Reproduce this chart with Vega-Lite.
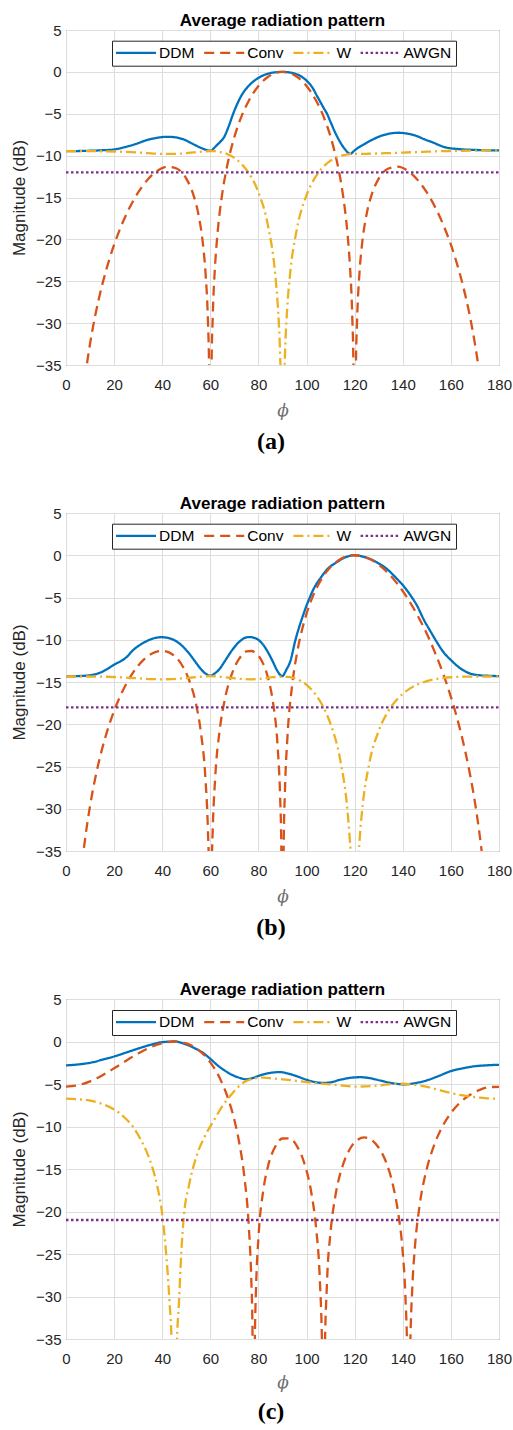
{
"$schema": "https://vega.github.io/schema/vega-lite/v6.json",
"background": "white",
"padding": {"left": 10, "top": 11, "right": 2, "bottom": 0},
"spacing": 40,
"config": {
  "font": "Liberation Sans",
  "view": {"stroke": "#404040", "strokeWidth": 1},
  "axis": {"grid": true, "gridColor": "#dedede", "gridWidth": 1, "domain": false, "ticks": false, "labelFont": "Liberation Sans", "labelFontSize": 15, "labelColor": "#262626", "labelFlush": false, "labelOverlap": false, "titleFont": "Liberation Sans", "titleFontWeight": "normal", "titleColor": "#262626", "titleFontSize": 17}
},
"resolve": {"scale": {"color": "independent", "strokeDash": "independent"}},
"datasets": {
"a": [
{"series":"DDM","phi":0,"dB":-9.46},{"series":"DDM","phi":5,"dB":-9.45},{"series":"DDM","phi":10,"dB":-9.42},{"series":"DDM","phi":15,"dB":-9.36},{"series":"DDM","phi":20,"dB":-9.26},{"series":"DDM","phi":25,"dB":-8.95},{"series":"DDM","phi":29.6,"dB":-8.55},{"series":"DDM","phi":33,"dB":-8.2},{"series":"DDM","phi":36.5,"dB":-7.95},{"series":"DDM","phi":39,"dB":-7.82},{"series":"DDM","phi":42,"dB":-7.75},{"series":"DDM","phi":45,"dB":-7.8},{"series":"DDM","phi":49,"dB":-8.07},{"series":"DDM","phi":53,"dB":-8.65},{"series":"DDM","phi":57,"dB":-9.18},{"series":"DDM","phi":59,"dB":-9.38},{"series":"DDM","phi":60.3,"dB":-9.42},{"series":"DDM","phi":61.5,"dB":-9.1},{"series":"DDM","phi":62.9,"dB":-8.7},{"series":"DDM","phi":64.3,"dB":-8.3},{"series":"DDM","phi":65.6,"dB":-7.85},{"series":"DDM","phi":67.5,"dB":-6.6},{"series":"DDM","phi":69.5,"dB":-5.0},{"series":"DDM","phi":71,"dB":-3.95},{"series":"DDM","phi":72.6,"dB":-3.0},{"series":"DDM","phi":74.5,"dB":-2.15},{"series":"DDM","phi":76.7,"dB":-1.45},{"series":"DDM","phi":80,"dB":-0.72},{"series":"DDM","phi":85,"dB":-0.14},{"series":"DDM","phi":90,"dB":0},{"series":"DDM","phi":95,"dB":-0.2},{"series":"DDM","phi":100,"dB":-1.05},{"series":"DDM","phi":102.5,"dB":-1.9},{"series":"DDM","phi":104.4,"dB":-2.9},{"series":"DDM","phi":107.1,"dB":-4.3},{"series":"DDM","phi":108.5,"dB":-5.0},{"series":"DDM","phi":110,"dB":-6.0},{"series":"DDM","phi":112,"dB":-7.3},{"series":"DDM","phi":114,"dB":-8.4},{"series":"DDM","phi":116,"dB":-9.25},{"series":"DDM","phi":117.5,"dB":-9.7},{"series":"DDM","phi":118.3,"dB":-9.78},{"series":"DDM","phi":119.5,"dB":-9.5},{"series":"DDM","phi":121,"dB":-9.15},{"series":"DDM","phi":123.8,"dB":-8.67},{"series":"DDM","phi":127,"dB":-8.15},{"series":"DDM","phi":130.7,"dB":-7.67},{"series":"DDM","phi":134,"dB":-7.4},{"series":"DDM","phi":138.3,"dB":-7.27},{"series":"DDM","phi":142,"dB":-7.38},{"series":"DDM","phi":145.9,"dB":-7.67},{"series":"DDM","phi":149,"dB":-8.05},{"series":"DDM","phi":152.8,"dB":-8.46},{"series":"DDM","phi":156,"dB":-8.85},{"series":"DDM","phi":158.4,"dB":-9.06},{"series":"DDM","phi":162,"dB":-9.19},{"series":"DDM","phi":165.3,"dB":-9.26},{"series":"DDM","phi":170,"dB":-9.32},{"series":"DDM","phi":175,"dB":-9.36},{"series":"DDM","phi":180,"dB":-9.38},
{"series":"Conv","phi":7,"dB":-38.6},{"series":"Conv","phi":8,"dB":-36.3},{"series":"Conv","phi":9,"dB":-34.28},{"series":"Conv","phi":10,"dB":-32.46},{"series":"Conv","phi":12,"dB":-29.31},{"series":"Conv","phi":15,"dB":-25.49},{"series":"Conv","phi":18,"dB":-22.4},{"series":"Conv","phi":20,"dB":-20.64},{"series":"Conv","phi":23,"dB":-18.37},{"series":"Conv","phi":26,"dB":-16.46},{"series":"Conv","phi":30,"dB":-14.4},{"series":"Conv","phi":34,"dB":-12.84},{"series":"Conv","phi":38,"dB":-11.8},{"series":"Conv","phi":42,"dB":-11.32},{"series":"Conv","phi":46,"dB":-11.54},{"series":"Conv","phi":50,"dB":-12.74},{"series":"Conv","phi":53,"dB":-14.72},{"series":"Conv","phi":55,"dB":-16.94},{"series":"Conv","phi":57,"dB":-20.76},{"series":"Conv","phi":58,"dB":-23.99},{"series":"Conv","phi":59,"dB":-29.74},{"series":"Conv","phi":59.5,"dB":-35.62},{"series":"Conv","phi":60,"dB":-70},{"series":"Conv","phi":60.5,"dB":-35.37},{"series":"Conv","phi":61,"dB":-29.24},{"series":"Conv","phi":62,"dB":-22.99},{"series":"Conv","phi":63,"dB":-19.26},{"series":"Conv","phi":65,"dB":-14.44},{"series":"Conv","phi":67,"dB":-11.22},{"series":"Conv","phi":70,"dB":-7.76},{"series":"Conv","phi":73,"dB":-5.28},{"series":"Conv","phi":76,"dB":-3.44},{"series":"Conv","phi":80,"dB":-1.69},{"series":"Conv","phi":84,"dB":-0.59},{"series":"Conv","phi":87,"dB":-0.15},{"series":"Conv","phi":90,"dB":0},{"series":"Conv","phi":93,"dB":-0.15},{"series":"Conv","phi":96,"dB":-0.59},{"series":"Conv","phi":100,"dB":-1.69},{"series":"Conv","phi":104,"dB":-3.44},{"series":"Conv","phi":107,"dB":-5.28},{"series":"Conv","phi":110,"dB":-7.76},{"series":"Conv","phi":113,"dB":-11.22},{"series":"Conv","phi":115,"dB":-14.44},{"series":"Conv","phi":117,"dB":-19.26},{"series":"Conv","phi":118,"dB":-22.99},{"series":"Conv","phi":119,"dB":-29.24},{"series":"Conv","phi":119.5,"dB":-35.37},{"series":"Conv","phi":120,"dB":-70},{"series":"Conv","phi":120.5,"dB":-35.62},{"series":"Conv","phi":121,"dB":-29.74},{"series":"Conv","phi":122,"dB":-23.99},{"series":"Conv","phi":123,"dB":-20.76},{"series":"Conv","phi":125,"dB":-16.94},{"series":"Conv","phi":127,"dB":-14.72},{"series":"Conv","phi":130,"dB":-12.74},{"series":"Conv","phi":134,"dB":-11.54},{"series":"Conv","phi":138,"dB":-11.32},{"series":"Conv","phi":142,"dB":-11.8},{"series":"Conv","phi":146,"dB":-12.84},{"series":"Conv","phi":150,"dB":-14.4},{"series":"Conv","phi":154,"dB":-16.46},{"series":"Conv","phi":157,"dB":-18.37},{"series":"Conv","phi":160,"dB":-20.64},{"series":"Conv","phi":162,"dB":-22.4},{"series":"Conv","phi":165,"dB":-25.49},{"series":"Conv","phi":168,"dB":-29.31},{"series":"Conv","phi":170,"dB":-32.46},{"series":"Conv","phi":171,"dB":-34.28},{"series":"Conv","phi":172,"dB":-36.3},{"series":"Conv","phi":173,"dB":-38.6},
{"series":"W","phi":0,"dB":-9.47},{"series":"W","phi":10,"dB":-9.47},{"series":"W","phi":20,"dB":-9.51},{"series":"W","phi":25,"dB":-9.56},{"series":"W","phi":30,"dB":-9.63},{"series":"W","phi":34,"dB":-9.7},{"series":"W","phi":38,"dB":-9.77},{"series":"W","phi":42,"dB":-9.8},{"series":"W","phi":46,"dB":-9.79},{"series":"W","phi":50,"dB":-9.71},{"series":"W","phi":53,"dB":-9.62},{"series":"W","phi":55,"dB":-9.56},{"series":"W","phi":57,"dB":-9.51},{"series":"W","phi":60,"dB":-9.45},{"series":"W","phi":62,"dB":-9.47},{"series":"W","phi":65,"dB":-9.63},{"series":"W","phi":67,"dB":-9.81},{"series":"W","phi":70,"dB":-10.27},{"series":"W","phi":73,"dB":-11.0},{"series":"W","phi":76,"dB":-12.09},{"series":"W","phi":80,"dB":-14.39},{"series":"W","phi":84,"dB":-18.4},{"series":"W","phi":87,"dB":-24.24},{"series":"W","phi":88,"dB":-27.73},{"series":"W","phi":89,"dB":-33.73},{"series":"W","phi":89.5,"dB":-39.7},{"series":"W","phi":90,"dB":-70},{"series":"W","phi":90.5,"dB":-40.0},{"series":"W","phi":91,"dB":-34.06},{"series":"W","phi":92,"dB":-28.06},{"series":"W","phi":93,"dB":-24.57},{"series":"W","phi":96,"dB":-18.73},{"series":"W","phi":100,"dB":-14.72},{"series":"W","phi":104,"dB":-12.42},{"series":"W","phi":107,"dB":-11.33},{"series":"W","phi":110,"dB":-10.6},{"series":"W","phi":113,"dB":-10.14},{"series":"W","phi":115,"dB":-9.96},{"series":"W","phi":118,"dB":-9.82},{"series":"W","phi":120,"dB":-9.8},{"series":"W","phi":125,"dB":-9.78},{"series":"W","phi":130,"dB":-9.74},{"series":"W","phi":135,"dB":-9.69},{"series":"W","phi":140,"dB":-9.64},{"series":"W","phi":145,"dB":-9.58},{"series":"W","phi":150,"dB":-9.53},{"series":"W","phi":155,"dB":-9.48},{"series":"W","phi":160,"dB":-9.45},{"series":"W","phi":165,"dB":-9.42},{"series":"W","phi":170,"dB":-9.4},{"series":"W","phi":175,"dB":-9.38},{"series":"W","phi":180,"dB":-9.38},
{"series":"AWGN","phi":0,"dB":-12},{"series":"AWGN","phi":180,"dB":-12}
],
"b": [
{"series":"DDM","phi":0,"dB":-14.35},{"series":"DDM","phi":5,"dB":-14.3},{"series":"DDM","phi":10,"dB":-14.2},{"series":"DDM","phi":15,"dB":-13.8},{"series":"DDM","phi":20,"dB":-12.95},{"series":"DDM","phi":25,"dB":-12.1},{"series":"DDM","phi":28,"dB":-11.2},{"series":"DDM","phi":32,"dB":-10.4},{"series":"DDM","phi":36,"dB":-9.87},{"series":"DDM","phi":39.6,"dB":-9.7},{"series":"DDM","phi":44,"dB":-9.92},{"series":"DDM","phi":48,"dB":-10.65},{"series":"DDM","phi":51,"dB":-11.56},{"series":"DDM","phi":54,"dB":-12.7},{"series":"DDM","phi":56,"dB":-13.45},{"series":"DDM","phi":58,"dB":-14.0},{"series":"DDM","phi":60,"dB":-14.25},{"series":"DDM","phi":62,"dB":-13.95},{"series":"DDM","phi":64,"dB":-13.4},{"series":"DDM","phi":66,"dB":-12.55},{"series":"DDM","phi":69,"dB":-11.25},{"series":"DDM","phi":72,"dB":-10.25},{"series":"DDM","phi":75,"dB":-9.72},{"series":"DDM","phi":76.5,"dB":-9.68},{"series":"DDM","phi":79,"dB":-9.85},{"series":"DDM","phi":82,"dB":-10.6},{"series":"DDM","phi":84,"dB":-11.5},{"series":"DDM","phi":86,"dB":-12.6},{"series":"DDM","phi":88,"dB":-13.75},{"series":"DDM","phi":89.9,"dB":-14.3},{"series":"DDM","phi":91.5,"dB":-13.6},{"series":"DDM","phi":93.3,"dB":-12.5},{"series":"DDM","phi":95.4,"dB":-10.0},{"series":"DDM","phi":98.2,"dB":-7.4},{"series":"DDM","phi":100.9,"dB":-5.3},{"series":"DDM","phi":103,"dB":-3.95},{"series":"DDM","phi":105.8,"dB":-2.7},{"series":"DDM","phi":109,"dB":-1.55},{"series":"DDM","phi":112.7,"dB":-0.8},{"series":"DDM","phi":116,"dB":-0.25},{"series":"DDM","phi":120,"dB":0},{"series":"DDM","phi":124,"dB":-0.2},{"series":"DDM","phi":129.3,"dB":-0.85},{"series":"DDM","phi":133.5,"dB":-1.65},{"series":"DDM","phi":137.6,"dB":-2.8},{"series":"DDM","phi":140.5,"dB":-3.7},{"series":"DDM","phi":143.1,"dB":-4.7},{"series":"DDM","phi":146,"dB":-6.0},{"series":"DDM","phi":148.7,"dB":-7.6},{"series":"DDM","phi":151.5,"dB":-9.0},{"series":"DDM","phi":154.2,"dB":-10.3},{"series":"DDM","phi":157,"dB":-11.5},{"series":"DDM","phi":160,"dB":-12.4},{"series":"DDM","phi":164,"dB":-13.4},{"series":"DDM","phi":168,"dB":-14.0},{"series":"DDM","phi":172,"dB":-14.2},{"series":"DDM","phi":176,"dB":-14.27},{"series":"DDM","phi":180,"dB":-14.3},
{"series":"Conv","phi":6,"dB":-38.4},{"series":"Conv","phi":7,"dB":-35.72},{"series":"Conv","phi":8,"dB":-33.44},{"series":"Conv","phi":10,"dB":-29.65},{"series":"Conv","phi":12,"dB":-26.59},{"series":"Conv","phi":15,"dB":-22.93},{"series":"Conv","phi":18,"dB":-20.03},{"series":"Conv","phi":21,"dB":-17.69},{"series":"Conv","phi":24,"dB":-15.8},{"series":"Conv","phi":28,"dB":-13.83},{"series":"Conv","phi":32,"dB":-12.44},{"series":"Conv","phi":36,"dB":-11.59},{"series":"Conv","phi":40,"dB":-11.31},{"series":"Conv","phi":44,"dB":-11.68},{"series":"Conv","phi":48,"dB":-12.9},{"series":"Conv","phi":51,"dB":-14.64},{"series":"Conv","phi":54,"dB":-17.56},{"series":"Conv","phi":56,"dB":-20.8},{"series":"Conv","phi":58,"dB":-26.6},{"series":"Conv","phi":59,"dB":-32.55},{"series":"Conv","phi":59.5,"dB":-38.55},{"series":"Conv","phi":60,"dB":-70},{"series":"Conv","phi":60.5,"dB":-38.51},{"series":"Conv","phi":61,"dB":-32.46},{"series":"Conv","phi":62,"dB":-26.43},{"series":"Conv","phi":64,"dB":-20.46},{"series":"Conv","phi":66,"dB":-17.09},{"series":"Conv","phi":69,"dB":-14.01},{"series":"Conv","phi":72,"dB":-12.24},{"series":"Conv","phi":75,"dB":-11.39},{"series":"Conv","phi":77,"dB":-11.33},{"series":"Conv","phi":79,"dB":-11.6},{"series":"Conv","phi":82,"dB":-12.86},{"series":"Conv","phi":84,"dB":-14.53},{"series":"Conv","phi":86,"dB":-17.33},{"series":"Conv","phi":88,"dB":-22.74},{"series":"Conv","phi":89,"dB":-28.48},{"series":"Conv","phi":89.5,"dB":-34.37},{"series":"Conv","phi":90,"dB":-70},{"series":"Conv","phi":90.5,"dB":-34.13},{"series":"Conv","phi":91,"dB":-28.0},{"series":"Conv","phi":92,"dB":-21.78},{"series":"Conv","phi":94,"dB":-15.41},{"series":"Conv","phi":96,"dB":-11.64},{"series":"Conv","phi":98,"dB":-8.96},{"series":"Conv","phi":100,"dB":-6.91},{"series":"Conv","phi":103,"dB":-4.59},{"series":"Conv","phi":106,"dB":-2.91},{"series":"Conv","phi":110,"dB":-1.39},{"series":"Conv","phi":114,"dB":-0.47},{"series":"Conv","phi":117,"dB":-0.11},{"series":"Conv","phi":120,"dB":0},{"series":"Conv","phi":123,"dB":-0.11},{"series":"Conv","phi":126,"dB":-0.42},{"series":"Conv","phi":130,"dB":-1.13},{"series":"Conv","phi":134,"dB":-2.15},{"series":"Conv","phi":138,"dB":-3.48},{"series":"Conv","phi":142,"dB":-5.1},{"series":"Conv","phi":146,"dB":-7.05},{"series":"Conv","phi":150,"dB":-9.29},{"series":"Conv","phi":154,"dB":-11.95},{"series":"Conv","phi":157,"dB":-14.19},{"series":"Conv","phi":160,"dB":-16.76},{"series":"Conv","phi":163,"dB":-19.72},{"series":"Conv","phi":166,"dB":-23.24},{"series":"Conv","phi":169,"dB":-27.55},{"series":"Conv","phi":171,"dB":-31.1},{"series":"Conv","phi":172,"dB":-33.18},{"series":"Conv","phi":173,"dB":-35.52},{"series":"Conv","phi":174,"dB":-38.2},
{"series":"W","phi":0,"dB":-14.35},{"series":"W","phi":10,"dB":-14.35},{"series":"W","phi":15,"dB":-14.37},{"series":"W","phi":21,"dB":-14.42},{"series":"W","phi":28,"dB":-14.53},{"series":"W","phi":32,"dB":-14.6},{"series":"W","phi":36,"dB":-14.66},{"series":"W","phi":40,"dB":-14.68},{"series":"W","phi":44,"dB":-14.66},{"series":"W","phi":48,"dB":-14.58},{"series":"W","phi":54,"dB":-14.43},{"series":"W","phi":60,"dB":-14.3},{"series":"W","phi":66,"dB":-14.44},{"series":"W","phi":72,"dB":-14.62},{"series":"W","phi":77,"dB":-14.68},{"series":"W","phi":82,"dB":-14.58},{"series":"W","phi":86,"dB":-14.43},{"series":"W","phi":90,"dB":-14.38},{"series":"W","phi":92,"dB":-14.4},{"series":"W","phi":94,"dB":-14.48},{"series":"W","phi":96,"dB":-14.66},{"series":"W","phi":98,"dB":-14.94},{"series":"W","phi":100,"dB":-15.34},{"series":"W","phi":103,"dB":-16.21},{"series":"W","phi":106,"dB":-17.46},{"series":"W","phi":110,"dB":-19.98},{"series":"W","phi":114,"dB":-24.22},{"series":"W","phi":117,"dB":-30.2},{"series":"W","phi":118,"dB":-33.76},{"series":"W","phi":118.5,"dB":-36.3},{"series":"W","phi":120,"dB":-70},{"series":"W","phi":121.5,"dB":-36.4},{"series":"W","phi":122,"dB":-33.9},{"series":"W","phi":123,"dB":-30.48},{"series":"W","phi":126,"dB":-24.73},{"series":"W","phi":130,"dB":-20.77},{"series":"W","phi":134,"dB":-18.44},{"series":"W","phi":138,"dB":-16.94},{"series":"W","phi":142,"dB":-15.96},{"series":"W","phi":146,"dB":-15.3},{"series":"W","phi":150,"dB":-14.89},{"series":"W","phi":154,"dB":-14.64},{"series":"W","phi":157,"dB":-14.52},{"series":"W","phi":160,"dB":-14.44},{"series":"W","phi":166,"dB":-14.37},{"series":"W","phi":172,"dB":-14.35},{"series":"W","phi":180,"dB":-14.35},
{"series":"AWGN","phi":0,"dB":-18},{"series":"AWGN","phi":180,"dB":-18}
],
"c": [
{"series":"DDM","phi":0,"dB":-2.81},{"series":"DDM","phi":5,"dB":-2.7},{"series":"DDM","phi":11.3,"dB":-2.43},{"series":"DDM","phi":15,"dB":-2.15},{"series":"DDM","phi":20,"dB":-1.76},{"series":"DDM","phi":25,"dB":-1.3},{"series":"DDM","phi":29.6,"dB":-0.87},{"series":"DDM","phi":35,"dB":-0.4},{"series":"DDM","phi":40,"dB":-0.08},{"series":"DDM","phi":45,"dB":0},{"series":"DDM","phi":49,"dB":-0.25},{"series":"DDM","phi":53.2,"dB":-0.75},{"series":"DDM","phi":57,"dB":-1.35},{"series":"DDM","phi":60,"dB":-2.04},{"series":"DDM","phi":63,"dB":-2.8},{"series":"DDM","phi":67,"dB":-3.6},{"series":"DDM","phi":70,"dB":-4.05},{"series":"DDM","phi":72.5,"dB":-4.3},{"series":"DDM","phi":74.6,"dB":-4.45},{"series":"DDM","phi":77,"dB":-4.35},{"series":"DDM","phi":80,"dB":-4.05},{"series":"DDM","phi":83,"dB":-3.8},{"series":"DDM","phi":86,"dB":-3.65},{"series":"DDM","phi":89,"dB":-3.6},{"series":"DDM","phi":92,"dB":-3.75},{"series":"DDM","phi":95,"dB":-4.0},{"series":"DDM","phi":100,"dB":-4.5},{"series":"DDM","phi":104,"dB":-4.8},{"series":"DDM","phi":107.5,"dB":-4.88},{"series":"DDM","phi":110,"dB":-4.8},{"series":"DDM","phi":114,"dB":-4.5},{"series":"DDM","phi":118,"dB":-4.28},{"series":"DDM","phi":122.5,"dB":-4.2},{"series":"DDM","phi":127,"dB":-4.35},{"series":"DDM","phi":131,"dB":-4.62},{"series":"DDM","phi":136,"dB":-4.92},{"series":"DDM","phi":140.5,"dB":-5.04},{"series":"DDM","phi":145,"dB":-4.9},{"series":"DDM","phi":150,"dB":-4.57},{"series":"DDM","phi":155,"dB":-4.05},{"series":"DDM","phi":160,"dB":-3.48},{"series":"DDM","phi":165,"dB":-3.15},{"series":"DDM","phi":169.4,"dB":-2.93},{"series":"DDM","phi":175,"dB":-2.8},{"series":"DDM","phi":180,"dB":-2.74},
{"series":"Conv","phi":0,"dB":-5.31},{"series":"Conv","phi":5,"dB":-5.14},{"series":"Conv","phi":10,"dB":-4.69},{"series":"Conv","phi":15,"dB":-3.99},{"series":"Conv","phi":20,"dB":-3.15},{"series":"Conv","phi":25,"dB":-2.26},{"series":"Conv","phi":30,"dB":-1.4},{"series":"Conv","phi":35,"dB":-0.69},{"series":"Conv","phi":40,"dB":-0.19},{"series":"Conv","phi":45,"dB":0},{"series":"Conv","phi":50,"dB":-0.22},{"series":"Conv","phi":55,"dB":-0.98},{"series":"Conv","phi":60,"dB":-2.45},{"series":"Conv","phi":64,"dB":-4.35},{"series":"Conv","phi":67,"dB":-6.39},{"series":"Conv","phi":70,"dB":-9.23},{"series":"Conv","phi":72,"dB":-11.88},{"series":"Conv","phi":74,"dB":-15.57},{"series":"Conv","phi":76,"dB":-21.8},{"series":"Conv","phi":77,"dB":-27.81},{"series":"Conv","phi":77.5,"dB":-33.54},{"series":"Conv","phi":78,"dB":-60},{"series":"Conv","phi":78.5,"dB":-35.4},{"series":"Conv","phi":79,"dB":-29.06},{"series":"Conv","phi":80,"dB":-23.08},{"series":"Conv","phi":82,"dB":-17.53},{"series":"Conv","phi":84,"dB":-14.64},{"series":"Conv","phi":87,"dB":-12.36},{"series":"Conv","phi":90,"dB":-11.41},{"series":"Conv","phi":93,"dB":-11.4},{"series":"Conv","phi":96,"dB":-12.31},{"series":"Conv","phi":99,"dB":-14.26},{"series":"Conv","phi":102,"dB":-17.83},{"series":"Conv","phi":104,"dB":-22.05},{"series":"Conv","phi":105.5,"dB":-27.93},{"series":"Conv","phi":106.5,"dB":-37.1},{"series":"Conv","phi":107,"dB":-60},{"series":"Conv","phi":107.5,"dB":-38.2},{"series":"Conv","phi":108.5,"dB":-28.33},{"series":"Conv","phi":110,"dB":-22.37},{"series":"Conv","phi":112,"dB":-18.15},{"series":"Conv","phi":115,"dB":-14.62},{"series":"Conv","phi":118,"dB":-12.65},{"series":"Conv","phi":121,"dB":-11.62},{"series":"Conv","phi":124,"dB":-11.29},{"series":"Conv","phi":127,"dB":-11.58},{"series":"Conv","phi":130,"dB":-12.5},{"series":"Conv","phi":133,"dB":-14.15},{"series":"Conv","phi":136,"dB":-16.99},{"series":"Conv","phi":138,"dB":-20.01},{"series":"Conv","phi":140,"dB":-24.86},{"series":"Conv","phi":141,"dB":-29.35},{"series":"Conv","phi":142,"dB":-39.4},{"series":"Conv","phi":142.5,"dB":-60},{"series":"Conv","phi":143,"dB":-37.8},{"series":"Conv","phi":144,"dB":-28.7},{"series":"Conv","phi":145,"dB":-24.34},{"series":"Conv","phi":147,"dB":-19.3},{"series":"Conv","phi":150,"dB":-14.96},{"series":"Conv","phi":153,"dB":-12.21},{"series":"Conv","phi":156,"dB":-10.26},{"series":"Conv","phi":160,"dB":-8.41},{"series":"Conv","phi":164,"dB":-7.14},{"series":"Conv","phi":168,"dB":-6.26},{"series":"Conv","phi":172,"dB":-5.69},{"series":"Conv","phi":176,"dB":-5.37},{"series":"Conv","phi":180,"dB":-5.33},
{"series":"W","phi":0,"dB":-6.72},{"series":"W","phi":5,"dB":-6.8},{"series":"W","phi":10,"dB":-6.95},{"series":"W","phi":15,"dB":-7.35},{"series":"W","phi":20,"dB":-8.0},{"series":"W","phi":24,"dB":-8.85},{"series":"W","phi":28,"dB":-10.1},{"series":"W","phi":31,"dB":-11.5},{"series":"W","phi":34,"dB":-13.3},{"series":"W","phi":36,"dB":-14.9},{"series":"W","phi":38,"dB":-17.1},{"series":"W","phi":40,"dB":-20.3},{"series":"W","phi":41.5,"dB":-24.5},{"series":"W","phi":43,"dB":-30.5},{"series":"W","phi":44,"dB":-36.5},{"series":"W","phi":45,"dB":-70},{"series":"W","phi":46,"dB":-36.5},{"series":"W","phi":47,"dB":-30.5},{"series":"W","phi":48,"dB":-24.5},{"series":"W","phi":49,"dB":-20.5},{"series":"W","phi":51,"dB":-17.1},{"series":"W","phi":54.6,"dB":-13.2},{"series":"W","phi":58,"dB":-11.0},{"series":"W","phi":61.5,"dB":-9.26},{"series":"W","phi":65,"dB":-7.6},{"series":"W","phi":68,"dB":-6.5},{"series":"W","phi":71,"dB":-5.5},{"series":"W","phi":74,"dB":-4.8},{"series":"W","phi":78,"dB":-4.35},{"series":"W","phi":82,"dB":-4.25},{"series":"W","phi":86,"dB":-4.35},{"series":"W","phi":90,"dB":-4.45},{"series":"W","phi":95,"dB":-4.6},{"series":"W","phi":100,"dB":-4.77},{"series":"W","phi":105,"dB":-4.92},{"series":"W","phi":110,"dB":-5.05},{"series":"W","phi":115,"dB":-5.2},{"series":"W","phi":120,"dB":-5.3},{"series":"W","phi":125,"dB":-5.28},{"series":"W","phi":131,"dB":-5.15},{"series":"W","phi":136,"dB":-5.0},{"series":"W","phi":140,"dB":-4.97},{"series":"W","phi":145,"dB":-5.1},{"series":"W","phi":150,"dB":-5.35},{"series":"W","phi":155,"dB":-5.7},{"series":"W","phi":160,"dB":-6.06},{"series":"W","phi":165,"dB":-6.35},{"series":"W","phi":170,"dB":-6.55},{"series":"W","phi":175,"dB":-6.68},{"series":"W","phi":180,"dB":-6.73},
{"series":"AWGN","phi":0,"dB":-21},{"series":"AWGN","phi":180,"dB":-21}
]
},
"vconcat": [
{
 "title": {"text": "(a)", "orient": "bottom", "font": "Liberation Serif", "fontSize": 24, "fontWeight": "bold", "color": "#000", "offset": 11, "anchor": "middle", "frame": "group", "dx": 205},
 "resolve": {"scale": {"color": "independent", "strokeDash": "independent"}},
 "vconcat": [{
  "title": {"text": "Average radiation pattern", "fontSize": 17, "fontWeight": "bold", "color": "#000", "offset": -7, "anchor": "middle", "frame": "group"},
  "width": 433, "height": 335,
  "data": {"name": "a"},
  "mark": {"type": "line", "clip": true, "strokeWidth": 2.3, "interpolate": "monotone"},
  "encoding": {
   "x": {"field": "phi", "type": "quantitative", "scale": {"domain": [0, 180], "nice": false, "zero": false}, "axis": {"values": [0,20,40,60,80,100,120,140,160,180], "title": "ϕ", "titleFont": "DejaVu Serif", "titleFontStyle": "italic", "titleColor": "#707070", "labelPadding": 12, "titlePadding": 10}},
   "y": {"field": "dB", "type": "quantitative", "scale": {"domain": [-35, 5], "nice": false, "zero": false}, "axis": {"values": [-35,-30,-25,-20,-15,-10,-5,0,5], "title": "Magnitude (dB)", "labelPadding": 5, "titlePadding": 7}},
   "color": {"field": "series", "type": "nominal", "scale": {"domain": ["DDM","Conv","W","AWGN"], "range": ["#0072BD","#D95319","#EDB120","#7E2F8E"]}, "legend": {"title": null, "orient": "none", "legendX": 46, "legendY": 10.7, "direction": "horizontal", "strokeColor": "#262626", "fillColor": "white", "padding": 4, "labelFont": "Liberation Sans", "labelFontSize": 15.5, "labelColor": "#000", "symbolType": "M-1.2917,0H5.375", "symbolSize": 144, "symbolStrokeWidth": 2.3, "labelOffset": 27.5, "columnPadding": 4.2, "labelLimit": 0}},
   "strokeDash": {"field": "series", "type": "nominal", "scale": {"domain": ["DDM","Conv","W","AWGN"], "range": [[1,0],[10,6],[10,4,2,4],[2.5,2.5]]}, "legend": {"title": null, "orient": "none", "legendX": 46, "legendY": 10.7, "direction": "horizontal", "strokeColor": "#262626", "fillColor": "white", "padding": 4, "labelFont": "Liberation Sans", "labelFontSize": 15.5, "labelColor": "#000", "symbolType": "M-1.2917,0H5.375", "symbolSize": 144, "symbolStrokeWidth": 2.3, "labelOffset": 27.5, "columnPadding": 4.2, "labelLimit": 0}}
  }
 }]
},
{
 "title": {"text": "(b)", "orient": "bottom", "font": "Liberation Serif", "fontSize": 24, "fontWeight": "bold", "color": "#000", "offset": 11, "anchor": "middle", "frame": "group", "dx": 205},
 "resolve": {"scale": {"color": "independent", "strokeDash": "independent"}},
 "vconcat": [{
  "title": {"text": "Average radiation pattern", "fontSize": 17, "fontWeight": "bold", "color": "#000", "offset": -7, "anchor": "middle", "frame": "group"},
  "width": 433, "height": 338,
  "data": {"name": "b"},
  "mark": {"type": "line", "clip": true, "strokeWidth": 2.3, "interpolate": "monotone"},
  "encoding": {
   "x": {"field": "phi", "type": "quantitative", "scale": {"domain": [0, 180], "nice": false, "zero": false}, "axis": {"values": [0,20,40,60,80,100,120,140,160,180], "title": "ϕ", "titleFont": "DejaVu Serif", "titleFontStyle": "italic", "titleColor": "#707070", "labelPadding": 12, "titlePadding": 10}},
   "y": {"field": "dB", "type": "quantitative", "scale": {"domain": [-35, 5], "nice": false, "zero": false}, "axis": {"values": [-35,-30,-25,-20,-15,-10,-5,0,5], "title": "Magnitude (dB)", "labelPadding": 5, "titlePadding": 7}},
   "color": {"field": "series", "type": "nominal", "scale": {"domain": ["DDM","Conv","W","AWGN"], "range": ["#0072BD","#D95319","#EDB120","#7E2F8E"]}, "legend": {"title": null, "orient": "none", "legendX": 46, "legendY": 10.7, "direction": "horizontal", "strokeColor": "#262626", "fillColor": "white", "padding": 4, "labelFont": "Liberation Sans", "labelFontSize": 15.5, "labelColor": "#000", "symbolType": "M-1.2917,0H5.375", "symbolSize": 144, "symbolStrokeWidth": 2.3, "labelOffset": 27.5, "columnPadding": 4.2, "labelLimit": 0}},
   "strokeDash": {"field": "series", "type": "nominal", "scale": {"domain": ["DDM","Conv","W","AWGN"], "range": [[1,0],[10,6],[10,4,2,4],[2.5,2.5]]}, "legend": {"title": null, "orient": "none", "legendX": 46, "legendY": 10.7, "direction": "horizontal", "strokeColor": "#262626", "fillColor": "white", "padding": 4, "labelFont": "Liberation Sans", "labelFontSize": 15.5, "labelColor": "#000", "symbolType": "M-1.2917,0H5.375", "symbolSize": 144, "symbolStrokeWidth": 2.3, "labelOffset": 27.5, "columnPadding": 4.2, "labelLimit": 0}}
  }
 }]
},
{
 "title": {"text": "(c)", "orient": "bottom", "font": "Liberation Serif", "fontSize": 24, "fontWeight": "bold", "color": "#000", "offset": 9, "anchor": "middle", "frame": "group", "dx": 205},
 "resolve": {"scale": {"color": "independent", "strokeDash": "independent"}},
 "vconcat": [{
  "title": {"text": "Average radiation pattern", "fontSize": 17, "fontWeight": "bold", "color": "#000", "offset": -7, "anchor": "middle", "frame": "group"},
  "width": 433, "height": 340,
  "data": {"name": "c"},
  "mark": {"type": "line", "clip": true, "strokeWidth": 2.3, "interpolate": "monotone"},
  "encoding": {
   "x": {"field": "phi", "type": "quantitative", "scale": {"domain": [0, 180], "nice": false, "zero": false}, "axis": {"values": [0,20,40,60,80,100,120,140,160,180], "title": "ϕ", "titleFont": "DejaVu Serif", "titleFontStyle": "italic", "titleColor": "#707070", "labelPadding": 12, "titlePadding": 8}},
   "y": {"field": "dB", "type": "quantitative", "scale": {"domain": [-35, 5], "nice": false, "zero": false}, "axis": {"values": [-35,-30,-25,-20,-15,-10,-5,0,5], "title": "Magnitude (dB)", "labelPadding": 5, "titlePadding": 7}},
   "color": {"field": "series", "type": "nominal", "scale": {"domain": ["DDM","Conv","W","AWGN"], "range": ["#0072BD","#D95319","#EDB120","#7E2F8E"]}, "legend": {"title": null, "orient": "none", "legendX": 46, "legendY": 11, "direction": "horizontal", "strokeColor": "#262626", "fillColor": "white", "padding": 4, "labelFont": "Liberation Sans", "labelFontSize": 15.5, "labelColor": "#000", "symbolType": "M-1.2917,0H5.375", "symbolSize": 144, "symbolStrokeWidth": 2.3, "labelOffset": 27.5, "columnPadding": 4.2, "labelLimit": 0}},
   "strokeDash": {"field": "series", "type": "nominal", "scale": {"domain": ["DDM","Conv","W","AWGN"], "range": [[1,0],[10,6],[10,4,2,4],[2.5,2.5]]}, "legend": {"title": null, "orient": "none", "legendX": 46, "legendY": 11, "direction": "horizontal", "strokeColor": "#262626", "fillColor": "white", "padding": 4, "labelFont": "Liberation Sans", "labelFontSize": 15.5, "labelColor": "#000", "symbolType": "M-1.2917,0H5.375", "symbolSize": 144, "symbolStrokeWidth": 2.3, "labelOffset": 27.5, "columnPadding": 4.2, "labelLimit": 0}}
  }
 }]
}
]
}
